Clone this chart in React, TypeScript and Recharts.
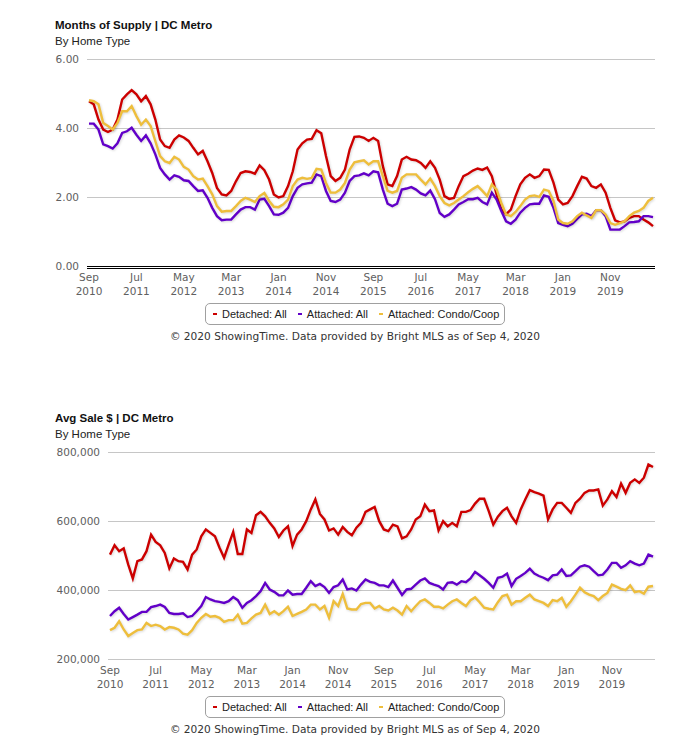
import React from 'react';
import { LineChart, Line, XAxis, YAxis, CartesianGrid } from 'recharts';

// ---------- categories ----------
const MONTH_NAMES = ['Jan', 'Feb', 'Mar', 'Apr', 'May', 'Jun', 'Jul', 'Aug', 'Sep', 'Oct', 'Nov', 'Dec'];
const FIRST_MONTH = 8; // Sep
const FIRST_YEAR = 2010;
const MONTH_COUNT = 120; // Sep 2010 .. Aug 2020
const periods: string[] = Array.from({ length: MONTH_COUNT }, (_, i) => {
  const k = FIRST_MONTH + i;
  return `${MONTH_NAMES[k % 12]} ${FIRST_YEAR + Math.floor(k / 12)}`;
});

// ---------- Months of Supply ----------
const supplyDetached = [
  4.79, 4.70, 4.26, 3.97, 3.90, 3.97, 4.26, 4.84, 4.99, 5.11,
  4.99, 4.79, 4.94, 4.70, 4.26, 3.68, 3.49, 3.44, 3.68, 3.80,
  3.74, 3.64, 3.44, 3.25, 3.35, 3.05, 2.71, 2.28, 2.09, 2.06,
  2.19, 2.47, 2.71, 2.76, 2.74, 2.69, 2.93, 2.79, 2.52, 2.09,
  2.00, 2.04, 2.33, 2.76, 3.39, 3.57, 3.68, 3.70, 3.95, 3.86,
  3.20, 2.62, 2.48, 2.57, 2.81, 3.39, 3.76, 3.77, 3.73, 3.64,
  3.73, 3.64, 2.91, 2.38, 2.33, 2.62, 3.10, 3.18, 3.10, 3.08,
  3.00, 2.86, 3.05, 2.86, 2.52, 2.04, 1.96, 1.99, 2.33, 2.62,
  2.69, 2.78, 2.84, 2.80, 2.87, 2.62, 2.09, 1.65, 1.51, 1.65,
  2.04, 2.38, 2.57, 2.67, 2.57, 2.62, 2.81, 2.80, 2.43, 1.94,
  1.80, 1.84, 2.04, 2.33, 2.60, 2.55, 2.33, 2.28, 2.38, 2.14,
  1.70, 1.34, 1.28, 1.31, 1.41, 1.46, 1.46, 1.36, 1.28, 1.17,
];
const supplyAttached = [
  4.14, 4.14, 3.97, 3.54, 3.49, 3.42, 3.57, 3.87, 3.92, 4.02,
  3.82, 3.64, 3.80, 3.57, 3.25, 2.86, 2.67, 2.52, 2.64, 2.60,
  2.50, 2.48, 2.33, 2.19, 2.21, 1.99, 1.70, 1.46, 1.34, 1.36,
  1.36, 1.51, 1.65, 1.72, 1.72, 1.65, 1.94, 1.96, 1.75, 1.51,
  1.50, 1.56, 1.70, 2.04, 2.28, 2.38, 2.41, 2.43, 2.67, 2.62,
  2.19, 1.90, 1.87, 1.94, 2.14, 2.48, 2.62, 2.64, 2.70, 2.64,
  2.76, 2.73, 2.23, 1.82, 1.75, 1.82, 2.23, 2.26, 2.30, 2.23,
  2.12, 2.06, 2.20, 1.95, 1.55, 1.44, 1.51, 1.65, 1.80, 1.87,
  1.95, 1.95, 1.99, 1.87, 1.80, 2.14, 1.94, 1.61, 1.31, 1.24,
  1.36, 1.56, 1.70, 1.80, 1.82, 1.82, 2.06, 2.02, 1.70, 1.26,
  1.21, 1.17, 1.24, 1.38, 1.51, 1.53, 1.46, 1.63, 1.63, 1.46,
  1.07, 1.07, 1.07, 1.17, 1.28, 1.29, 1.31, 1.46, 1.46, 1.43,
];
const supplyCondo = [
  4.82, 4.79, 4.70, 4.16, 4.07, 3.97, 4.16, 4.50, 4.50, 4.65,
  4.36, 4.11, 4.26, 4.07, 3.63, 3.20, 3.05, 3.00, 3.18, 3.10,
  2.89, 2.81, 2.62, 2.52, 2.55, 2.33, 2.09, 1.75, 1.59, 1.61,
  1.61, 1.75, 1.90, 1.99, 1.94, 1.87, 2.04, 2.13, 1.90, 1.73,
  1.72, 1.80, 1.94, 2.33, 2.52, 2.57, 2.54, 2.57, 2.83, 2.81,
  2.42, 2.14, 2.14, 2.23, 2.42, 2.81, 3.02, 3.05, 3.08, 2.96,
  3.05, 3.05, 2.62, 2.19, 2.14, 2.19, 2.57, 2.67, 2.67, 2.67,
  2.52, 2.38, 2.55, 2.33, 2.04, 1.84, 1.77, 1.84, 1.94, 2.04,
  2.15, 2.25, 2.33, 2.19, 2.04, 2.38, 2.23, 1.84, 1.51, 1.46,
  1.58, 1.75, 1.94, 2.04, 2.06, 2.02, 2.23, 2.19, 1.90, 1.36,
  1.26, 1.24, 1.31, 1.46, 1.56, 1.48, 1.41, 1.63, 1.63, 1.51,
  1.26, 1.21, 1.26, 1.31, 1.46, 1.56, 1.61, 1.70, 1.90, 1.99,
];

// ---------- Avg Sale $ ----------
const priceDetached = [
  504000, 531000, 514000, 522000, 475000, 435000, 485000, 490000, 514000, 562000,
  541000, 531000, 509000, 464000, 493000, 485000, 483000, 461000, 504000, 519000,
  557000, 577000, 567000, 557000, 524000, 495000, 533000, 570000, 506000, 506000,
  577000, 567000, 618000, 628000, 615000, 596000, 580000, 555000, 574000, 586000,
  529000, 562000, 577000, 601000, 635000, 664000, 622000, 606000, 574000, 580000,
  562000, 584000, 570000, 560000, 582000, 596000, 628000, 635000, 642000, 601000,
  577000, 572000, 591000, 586000, 551000, 557000, 577000, 606000, 615000, 649000,
  630000, 632000, 574000, 601000, 586000, 596000, 586000, 628000, 628000, 633000,
  652000, 666000, 666000, 630000, 591000, 614000, 630000, 640000, 615000, 596000,
  635000, 664000, 691000, 685000, 681000, 675000, 606000, 635000, 654000, 654000,
  640000, 625000, 654000, 666000, 683000, 690000, 690000, 693000, 646000, 664000,
  688000, 671000, 710000, 683000, 712000, 722000, 712000, 727000, 765000, 758000,
];
const priceAttached = [
  326000, 340000, 350000, 332000, 316000, 323000, 330000, 338000, 338000, 352000,
  355000, 359000, 352000, 335000, 332000, 332000, 334000, 323000, 326000, 340000,
  355000, 381000, 374000, 369000, 367000, 364000, 369000, 381000, 372000, 350000,
  364000, 372000, 384000, 398000, 422000, 403000, 396000, 386000, 386000, 400000,
  388000, 390000, 390000, 408000, 427000, 413000, 419000, 410000, 393000, 410000,
  415000, 432000, 403000, 406000, 400000, 417000, 432000, 425000, 422000, 415000,
  415000, 410000, 429000, 408000, 387000, 403000, 405000, 417000, 429000, 435000,
  422000, 417000, 413000, 403000, 422000, 424000, 417000, 427000, 424000, 435000,
  454000, 444000, 434000, 422000, 408000, 437000, 440000, 449000, 413000, 434000,
  442000, 451000, 463000, 449000, 442000, 437000, 430000, 444000, 446000, 461000,
  442000, 444000, 456000, 469000, 473000, 469000, 456000, 444000, 446000, 461000,
  480000, 480000, 466000, 473000, 485000, 478000, 473000, 478000, 504000, 498000,
];
const priceCondo = [
  285000, 292000, 311000, 287000, 268000, 277000, 285000, 287000, 306000, 297000,
  301000, 297000, 287000, 294000, 292000, 287000, 275000, 272000, 285000, 306000,
  321000, 332000, 324000, 326000, 321000, 309000, 314000, 314000, 330000, 304000,
  306000, 319000, 330000, 335000, 359000, 332000, 340000, 330000, 340000, 353000,
  326000, 332000, 338000, 345000, 359000, 359000, 345000, 355000, 321000, 369000,
  355000, 390000, 348000, 345000, 345000, 361000, 364000, 364000, 348000, 355000,
  345000, 342000, 350000, 342000, 330000, 355000, 340000, 355000, 369000, 374000,
  364000, 353000, 353000, 348000, 359000, 369000, 374000, 364000, 355000, 372000,
  380000, 366000, 350000, 347000, 345000, 366000, 384000, 388000, 359000, 369000,
  369000, 379000, 388000, 374000, 369000, 364000, 355000, 372000, 369000, 379000,
  353000, 369000, 388000, 408000, 395000, 388000, 384000, 372000, 384000, 393000,
  417000, 411000, 405000, 401000, 415000, 395000, 398000, 391000, 411000, 413000,
];

// ---------- axis ticks ----------
const supplyTicks = [0, 2, 4, 6];
const priceTicks = [200000, 400000, 600000, 800000];

// ---------- series ----------
const SERIES = [
  { key: 'detached', name: 'Detached: All', color: '#CC0000' },
  { key: 'attached', name: 'Attached: All', color: '#6200C8' },
  { key: 'condo', name: 'Attached: Condo/Coop', color: '#EEBE3C' },
];

const supplyRows = periods.map((period, i) => ({
  period,
  detached: supplyDetached[i],
  attached: supplyAttached[i],
  condo: supplyCondo[i],
}));
const priceRows = periods.map((period, i) => ({
  period,
  detached: priceDetached[i],
  attached: priceAttached[i],
  condo: priceCondo[i],
}));

const TICK_FONT = "'DejaVu Sans', Verdana, sans-serif";
const TITLE_FONT = "'Liberation Sans', Arial, sans-serif";

const makeTick = (d1: number, d2: number) => (props: any) => {
  const { x, y, payload } = props;
  const [m, yr] = String(payload.value).split(' ');
  return (
    <text x={x} y={y} textAnchor="middle" fill="#606060" fontSize={10.5} fontFamily={TICK_FONT}>
      <tspan x={x} y={y + d1}>{m}</tspan>
      <tspan x={x} y={y + d2}>{yr}</tspan>
    </text>
  );
};

type PanelProps = {
  top: number;
  title: string;
  rows: any[];
  domain: [number, number];
  ticks: number[];
  fmt: (v: number) => string;
  yWidth: number;
  doubleAxis: boolean;
};

const Panel = ({ top, title, rows, domain, ticks, fmt, yWidth, doubleAxis }: PanelProps) => {
  const Tick = doubleAxis ? makeTick(4.5, 18.5) : makeTick(6.5, 20.5);
  return (
    <div style={{ position: 'absolute', left: 0, top, width: 698, height: 350 }}>
      <svg width={698} height={350} style={{ position: 'absolute', left: 0, top: 0 }}>
        <text x={55} y={28.5} fontFamily={TITLE_FONT} fontWeight="bold" fontSize={11.5} fill="#111">
          {title}
        </text>
        <text x={55} y={44.5} fontFamily={TITLE_FONT} fontSize={11.5} fill="#222">
          By Home Type
        </text>
        <text x={355} y={339.5} textAnchor="middle" fontFamily={TICK_FONT} fontSize={10.6} fill="#333">
          © 2020 ShowingTime. Data provided by Bright MLS as of Sep 4, 2020
        </text>
      </svg>
      <div style={{ position: 'absolute', left: 0, top: 0 }}>
        <LineChart width={698} height={307} data={rows} margin={{ top: 59.5, right: 43, bottom: 0.5, left: 55 }}>
          <CartesianGrid vertical={false} stroke="#c6c6c6" xAxisId="b" />
          <XAxis
            xAxisId="b"
            dataKey="period"
            interval={9}
            tickLine={false}
            axisLine={doubleAxis ? { stroke: '#000', strokeWidth: 1 } : { stroke: '#c6c6c6' }}
            tick={<Tick />}
            height={doubleAxis ? 38 : 40}
            padding={{ left: 2, right: 2 }}
          />
          {doubleAxis && (
            <XAxis
              xAxisId="a"
              dataKey="period"
              tick={false}
              tickLine={false}
              height={2}
              axisLine={{ stroke: '#000', strokeWidth: 1 }}
              padding={{ left: 2, right: 2 }}
            />
          )}
          <YAxis
            domain={domain}
            ticks={ticks}
            tickFormatter={fmt}
            axisLine={false}
            tickLine={false}
            width={yWidth}
            tick={{ fontSize: 10.5, fill: '#606060', fontFamily: TICK_FONT }}
          />
          {SERIES.map((s) => (
            <Line
              key={s.key}
              xAxisId="b"
              type="linear"
              dataKey={s.key}
              name={s.name}
              stroke={s.color}
              strokeWidth={2.4}
              dot={false}
              activeDot={false}
              isAnimationActive={false}
              style={{ filter: 'drop-shadow(1px 1px 1px rgba(0,0,0,0.15))' }}
            />
          ))}
        </LineChart>
      </div>
      <div
        style={{
          position: 'absolute',
          left: 205,
          top: 303,
          width: 300,
          height: 22,
          boxSizing: 'border-box',
          border: '1px solid #a0a0a0',
          borderRadius: 5,
          display: 'flex',
          alignItems: 'center',
          paddingLeft: 7,
          fontFamily: TITLE_FONT,
          fontSize: 11,
          color: '#222',
          whiteSpace: 'nowrap',
        }}
      >
        {SERIES.map((s) => (
          <div key={s.key} style={{ display: 'flex', alignItems: 'center', marginRight: 11 }}>
            <span style={{ display: 'inline-block', width: 4, height: 2, background: s.color, marginRight: 5 }} />
            <span>{s.name}</span>
          </div>
        ))}
      </div>
    </div>
  );
};

export default function App() {
  return (
    <div style={{ position: 'absolute', left: 0, top: 0, width: 698, height: 750, background: '#fff' }}>
      <Panel
        top={0}
        title="Months of Supply | DC Metro"
        rows={supplyRows}
        domain={[0, 6]}
        ticks={supplyTicks}
        fmt={(v) => v.toFixed(2)}
        yWidth={32}
        doubleAxis={true}
      />
      <Panel
        top={393}
        title="Avg Sale $ | DC Metro"
        rows={priceRows}
        domain={[200000, 800000]}
        ticks={priceTicks}
        fmt={(v) => v.toLocaleString('en-US')}
        yWidth={53}
        doubleAxis={false}
      />
    </div>
  );
}
